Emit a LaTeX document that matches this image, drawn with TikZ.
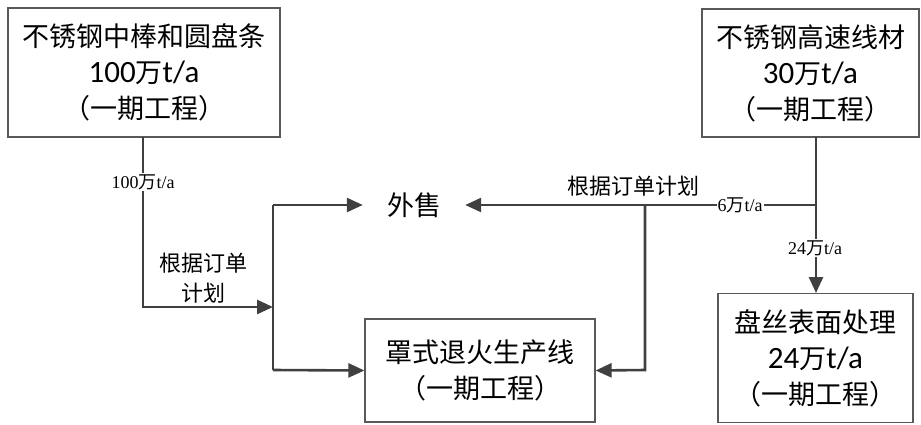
\documentclass[tikz,border=0pt]{standalone}
\usepackage{fontspec}
\setmainfont{Liberation Serif}
\newfontfamily\cjk{Noto Sans CJK SC}
\newfontfamily\calib{Carlito}
\newcommand{\bignum}[1]{{\calib\fontsize{31}{36}\selectfont #1}}
\usetikzlibrary{arrows.meta}
\begin{document}
\begin{tikzpicture}[x=1pt,y=-1pt,
  box/.style={draw=black!65,line width=1.2pt,inner sep=0pt,align=center,font=\cjk\fontsize{27}{36}\selectfont},
  flow/.style={draw=black!75,line width=2.6pt,line join=miter},
  arr/.style={flow,-{Triangle[length=16pt,width=14pt]}},
  lab/.style={fill=white,inner sep=1pt,font=\fontsize{18}{20}\selectfont},
  note/.style={inner sep=0pt,align=center,font=\cjk\fontsize{22}{30}\selectfont}]
\useasboundingbox (0,0) rectangle (921,424);
\node[box,minimum width=272pt,minimum height=129pt] (b1) at (144,72.5)
  {不锈钢中棒和圆盘条\\\bignum{100}万\bignum{t/a}\\（一期工程）};
\node[box,minimum width=217pt,minimum height=128pt] (b2) at (810.5,73)
  {不锈钢高速线材\\\bignum{30}万\bignum{t/a}\\（一期工程）};
\node[box,minimum width=230pt,minimum height=103pt] (b3) at (480,370.5)
  {罩式退火生产线\\（一期工程）};
\node[box,minimum width=195pt,minimum height=129pt] (b4) at (815.5,358)
  {盘丝表面处理\\\bignum{24}万\bignum{t/a}\\（一期工程）};
\node[minimum width=102pt,inner sep=0pt,font=\cjk\fontsize{27}{30}\selectfont] (sale) at (414,205) {外售};
\coordinate (p1) at (143,137);
\coordinate (p2) at (143,307);
\coordinate (j1) at (273,307);
\coordinate (j1t) at (273,205);
\coordinate (j1b) at (273,370);
\coordinate (q1) at (816,137);
\coordinate (q2) at (816,293);
\coordinate (q3) at (816,205);
\coordinate (r1) at (645,205);
\coordinate (r2) at (645,370);
% left branch
\draw[arr] (p1) -- (p2) -- (j1);
\draw[flow] (j1t) -- (j1b);
\draw[arr] (j1t) -- (sale.west);
\draw[arr] (j1b) -- (b3.west);
\node[lab] at (143,182) {100{\cjk 万}t/a};
\node[note] at (203,278) {根据订单\\计划};
% right branch
\draw[arr] (q1) -- (q2);
\draw[arr] (q3) -- (sale.east);
\draw[arr] (r1) -- (r2) -- (b3.east);
\node[lab] at (815,248) {24{\cjk 万}t/a};
\node[lab] at (740,205) {6{\cjk 万}t/a};
\node[note] at (633,186) {根据订单计划};
\end{tikzpicture}
\end{document}
